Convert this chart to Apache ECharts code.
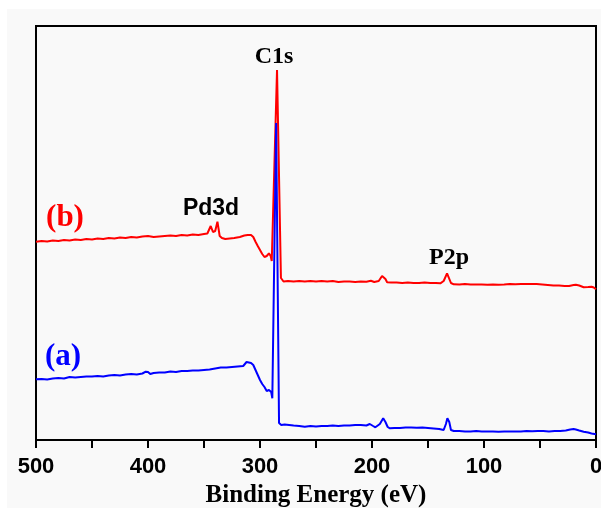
<!DOCTYPE html>
<html>
<head>
<meta charset="utf-8">
<script src="https://cdn.jsdelivr.net/npm/echarts@6/dist/echarts.min.js"></script>
<style>
  html, body { margin: 0; padding: 0; background: #fff; }
  #chart { width: 601px; height: 508px; }
</style>
</head>
<body>
<div id="chart"></div>
<script>
// 曲线 (b): 结合能 / 强度 (任意单位)
var energyB = [500, 495, 490, 485, 480, 475, 470, 465, 460, 455, 450, 445, 440, 435, 430, 425, 420, 415, 410, 405,
  400, 395, 390, 385, 380, 375, 370, 365, 360, 355, 350, 347, 344, 342, 340, 338, 336, 334, 331, 327,
  323, 318, 314, 311, 308, 306, 304, 302, 300, 298, 296, 294, 292, 290.5, 289.5, 284.8, 281.3,
  279, 275, 270, 265, 260, 255, 250, 245, 240, 235, 230, 225, 220, 215, 210, 205,
  201, 198, 194, 191, 190, 188, 186.5, 183, 178, 173, 168, 163, 158, 153, 148, 143, 139, 136, 133, 131.5,
  129.5, 127, 122, 117, 112, 107, 102, 97, 92, 87, 82, 77, 72, 67, 62, 57, 53, 48, 43, 38,
  33, 28, 24, 20, 18, 15, 11, 7, 4, 2, 0];
var countsB = [198.3, 199, 198.5, 199.5, 199, 200, 199.5, 200.5, 200, 201, 200.5, 201.5, 201, 202, 201.5, 202.5, 202, 203, 202.5, 203.5,
  204, 203, 203.5, 204, 204.5, 204, 205, 204.5, 205.5, 205, 206, 206.5, 214, 208, 209, 218.3, 204, 202, 201, 201.5,
  202, 203, 204.5, 205, 205, 203, 198.3, 194, 190, 186, 183, 184, 186.7, 184, 179, 370, 162,
  158.5, 159, 158.5, 159, 158.5, 159, 158.5, 159, 158.5, 159, 158, 158.5, 158.5, 158, 158.5, 158.3,
  159.3, 158, 159, 164, 164.3, 161, 157.7, 157.5, 157.5, 157, 157.5, 157, 157, 157.5, 157, 157, 156.7, 159, 166.7, 165,
  157, 155.7, 155.5, 156, 155.5, 155.5, 155.5, 155.3, 155.5, 155.3, 155.5, 156, 155.7, 156, 156, 156, 156, 155.5, 155, 154.5,
  154.5, 154, 154, 155, 155.3, 154.5, 152.7, 153, 153.3, 152.5, 150.7];

// 曲线 (a)
var energyA = [500, 495, 490, 485, 480, 475, 470, 465, 460, 455, 450, 445, 440, 435, 430, 425, 420, 415, 410, 405,
  402, 400, 398, 395, 390, 385, 380, 375, 370, 365, 360, 355, 350, 345, 340, 335, 330, 325, 320, 315,
  312, 310, 308, 306, 304, 302, 300, 298, 296, 294, 292, 291, 290, 289, 285.6, 283, 281,
  278, 274, 270, 265, 260, 255, 250, 245, 240, 235, 230, 225,
  220, 215, 210, 205, 202, 199, 197, 193, 190, 188, 186, 184, 180, 175, 170, 165, 160, 155, 150, 145,
  140, 136, 134, 132.7, 131, 129.5, 127, 122, 117, 112, 107, 102, 97, 92, 87, 82, 77, 72, 67, 62,
  57, 52, 47, 42, 37, 32, 27, 23, 20, 18, 15, 11, 7, 4, 0];
var countsA = [60.7, 61, 60.5, 61.5, 62, 61.5, 63, 62.5, 63, 63.5, 63.5, 64, 63.5, 64.5, 65, 64.5, 65.5, 66, 65.5, 66.5,
  68.3, 68, 66, 67, 67.5, 67.5, 68.5, 68, 69, 69, 69.5, 69.5, 70, 70.5, 71.5, 72.5, 72.5, 73, 73.5, 74,
  78, 77.5, 77, 75, 70, 65, 60, 56, 53, 49, 50, 51.7, 48, 41.7, 317, 17, 15,
  15.5, 15, 14.5, 14, 13.3, 14, 13.5, 14, 14, 14.5, 14, 14.5,
  14.5, 15, 15, 14.5, 16, 14, 12.7, 16, 21.7, 18, 13, 11.7, 12, 12, 12.5, 12.5, 12.3, 12.5, 12, 11.5,
  11, 10, 16, 21.7, 18, 10, 9, 9, 8.5, 8.5, 9, 8.5, 8.5, 8.5, 8.3, 8.5, 8.5, 8.5, 8.5, 9,
  8.7, 9, 9, 8.5, 9, 9, 9.5, 10.5, 11, 10.5, 9.5, 8.3, 7.5, 6.5, 5.7];

var xTicks = [500, 400, 300, 200, 100, 0];

function pairs(xs, ys) {
  var out = [];
  for (var i = 0; i < xs.length; i++) out.push([xs[i], ys[i]]);
  return out;
}

var myChart = echarts.init(document.getElementById('chart'));
var option = {
  backgroundColor: '#f9f9f9',
  animation: false,
  grid: {
    left: 36, right: 5, top: 26, bottom: 68,
    outerBoundsMode: 'none', containLabel: false,
    show: true, borderColor: '#000', borderWidth: 2, backgroundColor: '#f9f9f9'
  },
  xAxis: {
    type: 'value', inverse: true, min: 0, max: 500, interval: 50,
    name: 'Binding Energy (eV)', nameLocation: 'middle', nameGap: 40,
    nameTextStyle: { fontFamily: 'Liberation Serif', fontWeight: 'bold', fontSize: 25, color: '#000' },
    axisLine: { show: true, lineStyle: { color: '#000', width: 2 } },
    axisTick: { show: true, inside: false, length: 8, lineStyle: { color: '#000', width: 2 } },
    axisLabel: {
      margin: 16, color: '#000', fontFamily: 'Liberation Sans', fontWeight: 'bold', fontSize: 22,
      formatter: function (v) { return xTicks.indexOf(v) >= 0 ? String(v) : ''; }
    },
    splitLine: { show: false }
  },
  yAxis: {
    type: 'value', min: 0, max: 414,
    axisLine: { show: true, lineStyle: { color: '#000', width: 2 } },
    axisTick: { show: false }, axisLabel: { show: false }, splitLine: { show: false }
  },
  series: [
    { name: '(b)', type: 'line', data: pairs(energyB, countsB), showSymbol: false,
      lineStyle: { color: '#ff0000', width: 2 }, itemStyle: { color: '#ff0000' } },
    { name: '(a)', type: 'line', data: pairs(energyA, countsA), showSymbol: false,
      lineStyle: { color: '#0000ff', width: 2 }, itemStyle: { color: '#0000ff' } }
  ],
  graphic: [
    { type: 'rect', shape: { x: 0, y: 0, width: 601, height: 9 }, style: { fill: '#fff' }, z: -10, silent: true },
    { type: 'rect', shape: { x: 0, y: 0, width: 7, height: 508 }, style: { fill: '#fff' }, z: -10, silent: true },
    { type: 'text', style: { x: 65, y: 218, text: '(b)', fill: '#ff0000', align: 'center', verticalAlign: 'middle',
      font: 'bold 31px "Liberation Serif"' } },
    { type: 'text', style: { x: 63, y: 357, text: '(a)', fill: '#0000ff', align: 'center', verticalAlign: 'middle',
      font: 'bold 31px "Liberation Serif"' } },
    { type: 'text', style: { x: 211, y: 209, text: 'Pd3d', fill: '#000', align: 'center', verticalAlign: 'middle',
      font: 'bold 23px "Liberation Sans"' } },
    { type: 'text', style: { x: 274, y: 57, text: 'C1s', fill: '#000', align: 'center', verticalAlign: 'middle',
      font: 'bold 24px "Liberation Serif"' } },
    { type: 'text', style: { x: 449, y: 258, text: 'P2p', fill: '#000', align: 'center', verticalAlign: 'middle',
      font: 'bold 24px "Liberation Serif"' } }
  ]
};
myChart.setOption(option, true);
</script>
</body>
</html>
